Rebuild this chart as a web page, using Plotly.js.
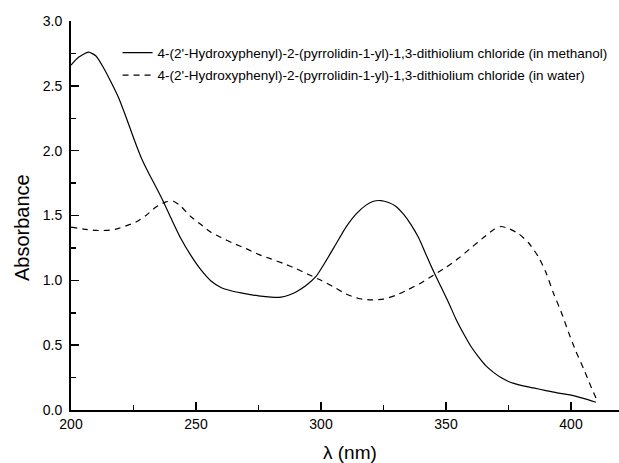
<!DOCTYPE html>
<html>
<head>
<meta charset="utf-8">
<script src="https://cdn.plot.ly/plotly-3.0.1.min.js"></script>
<style>html,body{margin:0;padding:0;background:#fff;}#chart{width:619px;height:463px;}</style>
</head>
<body>
<div id="chart"></div>
<script>
const methanolWl = [200,203,207,210,213,216,219,222,225,228,231,234,237,240,244,248,252,256,260,264,268,275,280,284,287,290,294,298,302,306,310,314,318,321,324,327,330,333,336,339,342,345,348,351,354,357,360,363,366,369,372,375,380,385,390,395,400,405,410];
const methanolAbs = [2.66,2.72,2.76,2.73,2.64,2.53,2.41,2.26,2.10,1.95,1.83,1.72,1.605,1.48,1.32,1.19,1.08,0.995,0.945,0.92,0.903,0.880,0.870,0.870,0.885,0.91,0.96,1.03,1.15,1.28,1.41,1.51,1.58,1.61,1.615,1.60,1.57,1.51,1.43,1.33,1.20,1.07,0.95,0.83,0.70,0.59,0.49,0.41,0.34,0.29,0.25,0.22,0.19,0.17,0.15,0.13,0.115,0.09,0.06];
const waterWl = [200,205,210,214,218,222,226,230,234,238,241,244,248,252,256,260,265,270,275,280,285,290,295,300,305,310,315,320,325,330,335,340,345,350,355,360,365,369,372,375,379,383,387,390,393,396,399,402,405,408,410.5];
const waterAbs = [1.41,1.395,1.385,1.385,1.395,1.42,1.45,1.50,1.565,1.605,1.61,1.57,1.49,1.43,1.37,1.33,1.285,1.245,1.20,1.165,1.13,1.09,1.045,1.00,0.95,0.895,0.86,0.85,0.855,0.885,0.93,0.98,1.04,1.10,1.17,1.25,1.33,1.39,1.415,1.40,1.36,1.29,1.18,1.06,0.90,0.76,0.60,0.45,0.32,0.18,0.07];
const seriesNames = [
  "4-(2'-Hydroxyphenyl)-2-(pyrrolidin-1-yl)-1,3-dithiolium chloride (in methanol)",
  "4-(2'-Hydroxyphenyl)-2-(pyrrolidin-1-yl)-1,3-dithiolium chloride (in water)"
];
const xTicks = [200,250,300,350,400];
const yTicks = [0,0.5,1,1.5,2,2.5,3];
const xTitle = 'λ (nm)';
const yTitle = 'Absorbance';

const font = 'Liberation Sans, Arial, sans-serif';
const traces = [
  {x: methanolWl, y: methanolAbs, name: seriesNames[0], mode: 'lines', legendgroup: 'a',
   line: {color: '#000', width: 1.2, shape: 'spline', smoothing: 0.6}},
  {x: waterWl, y: waterAbs, name: seriesNames[1], mode: 'lines', legendgroup: 'b',
   line: {color: '#000', width: 1.2, dash: '6px,5px', shape: 'spline', smoothing: 0.6}}
];
const layout = {
  width: 619, height: 463,
  margin: {l: 71, r: 0, t: 21, b: 53, pad: 0},
  paper_bgcolor: '#fff', plot_bgcolor: '#fff',
  font: {family: font, color: '#000'},
  showlegend: true,
  legend: {x: 0.085, y: 0.958, xanchor: 'left', yanchor: 'top', bgcolor: 'rgba(0,0,0,0)',
           font: {size: 13.5, family: font, color: '#000'}, tracegroupgap: 2, traceorder: 'grouped'},
  xaxis: {
    range: [200, 419.2], tickvals: xTicks, ticktext: xTicks.map(String),
    showgrid: false, zeroline: false, showline: true, linecolor: '#000', linewidth: 2,
    ticks: 'inside', ticklen: 8, tickwidth: 1.5, tickcolor: '#000',
    minor: {dtick: 25, tick0: 200, ticks: 'inside', ticklen: 5, tickwidth: 1.5, tickcolor: '#000', showgrid: false},
    tickfont: {size: 14, family: font, color: '#000'}
  },
  yaxis: {
    range: [0, 3], tickvals: yTicks, ticktext: yTicks.map(v => v.toFixed(1)),
    showgrid: false, zeroline: false, showline: true, linecolor: '#000', linewidth: 2,
    ticks: 'inside', ticklen: 8, tickwidth: 1.5, tickcolor: '#000',
    minor: {dtick: 0.25, tick0: 0, ticks: 'inside', ticklen: 5, tickwidth: 1.5, tickcolor: '#000', showgrid: false},
    tickfont: {size: 14, family: font, color: '#000'},
    ticklabelstandoff: 4
  },
  annotations: [
    {text: xTitle, xref: 'paper', yref: 'paper', x: 0.51, y: -0.108, xanchor: 'center', yanchor: 'middle',
     showarrow: false, font: {size: 19, family: font, color: '#000'}},
    {text: yTitle, xref: 'paper', yref: 'paper', x: -0.0903, y: 0.469, xanchor: 'center', yanchor: 'middle',
     textangle: -90, showarrow: false, font: {size: 20, family: font, color: '#000'}}
  ]
};
Plotly.newPlot('chart', traces, layout, {staticPlot: true, displayModeBar: false});
</script>
</body>
</html>
